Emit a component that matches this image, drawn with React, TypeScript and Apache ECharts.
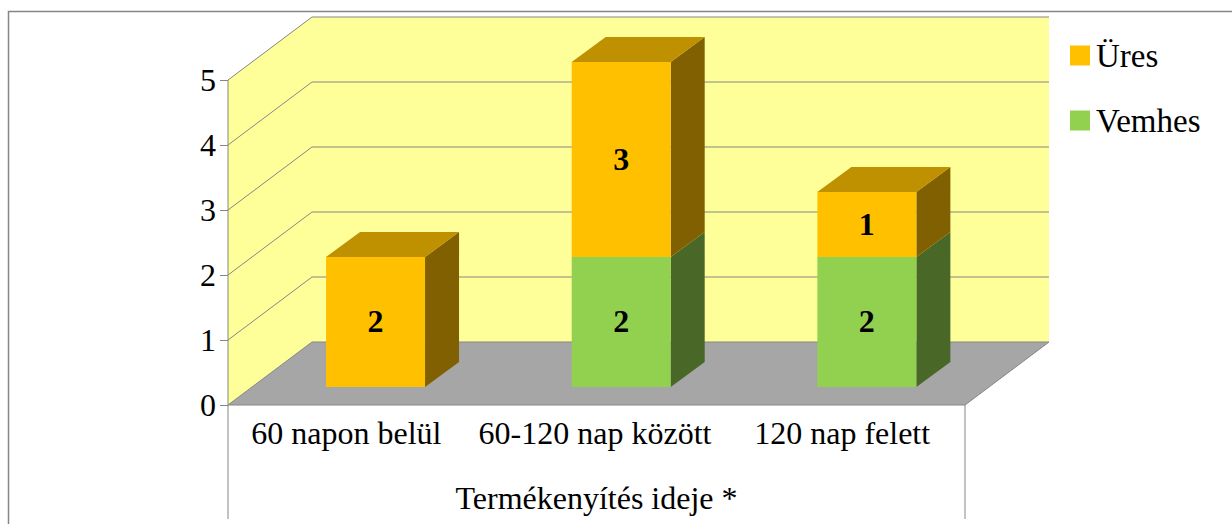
import React, { useEffect, useRef } from "react";
import * as echarts from "echarts";

const categories = ["60 napon belül", "60-120 nap között", "120 nap felett"];
const vemhes = [0, 2, 2];
const ures = [2, 3, 1];
const yTicks = [0, 1, 2, 3, 4, 5];
const axisTitle = "Termékenyítés ideje *";

const FONT = '"Liberation Serif", "Times New Roman", serif';
const FS = 32;
const LINE = "#868686";
const WALL_DX = 84;
const WALL_DY = -63;
const BAR_W = 99;
const BAR_OFF_X = 24.7;
const BAR_OFF_Y = -18;
const BAR_DX = 34;
const BAR_DY = -25;
const LABEL_PAD_RIGHT = [9, 3, 0];

function renderWalls(_p: any, api: any) {
  const band = api.size([1, 0])[0];
  const left = api.coord([0, 0])[0] - band / 2;
  const right = left + band * categories.length;
  const y0 = api.coord([0, 0])[1];
  const y5 = api.coord([0, 5])[1];
  const children: any[] = [
    { type: "polygon", shape: { points: [[left + WALL_DX, y5 + WALL_DY], [right + WALL_DX, y5 + WALL_DY], [right + WALL_DX, y0 + WALL_DY], [left + WALL_DX, y0 + WALL_DY]] }, style: { fill: "#FFFF99" } },
    { type: "polygon", shape: { points: [[left, y5], [left + WALL_DX, y5 + WALL_DY], [left + WALL_DX, y0 + WALL_DY], [left, y0]] }, style: { fill: "#FFFF99" } },
    { type: "polygon", shape: { points: [[left, y0], [right, y0], [right + WALL_DX, y0 + WALL_DY], [left + WALL_DX, y0 + WALL_DY]] }, style: { fill: "#A6A6A6" } },
    { type: "line", shape: { x1: right, y1: y0, x2: right + WALL_DX, y2: y0 + WALL_DY }, style: { stroke: LINE, lineWidth: 1 } },
  ];
  yTicks.forEach((t) => {
    const y = api.coord([0, t])[1];
    children.push({ type: "polyline", shape: { points: [[left, y], [left + WALL_DX, y + WALL_DY], [right + WALL_DX, y + WALL_DY]] }, style: { fill: "none", stroke: LINE, lineWidth: 1 } });
  });
  return { type: "group", children };
}

function barRenderer(front: string, top: string, side: string, isTop: (i: number) => boolean) {
  return (_p: any, api: any) => {
    const i = api.value(0);
    const base = api.value(1);
    const val = api.value(2);
    if (!val) return { type: "group", children: [] };
    const cx = api.coord([i, 0])[0] + BAR_OFF_X;
    const yb = api.coord([i, base])[1] + BAR_OFF_Y;
    const yt = api.coord([i, base + val])[1] + BAR_OFF_Y;
    const l = cx - BAR_W / 2;
    const r = cx + BAR_W / 2;
    const children: any[] = [
      { type: "polygon", shape: { points: [[r, yb], [r + BAR_DX, yb + BAR_DY], [r + BAR_DX, yt + BAR_DY], [r, yt]] }, style: { fill: side } },
    ];
    if (isTop(i)) {
      children.push({ type: "polygon", shape: { points: [[l, yt], [r, yt], [r + BAR_DX, yt + BAR_DY], [l + BAR_DX, yt + BAR_DY]] }, style: { fill: top } });
    }
    children.push({ type: "rect", shape: { x: l, y: yt, width: BAR_W, height: yb - yt }, style: { fill: front } });
    children.push({ type: "text", x: cx, y: (yt + yb) / 2 - 1, style: { text: String(val), fill: "#000", font: `bold ${FS}px ${FONT}`, align: "center", verticalAlign: "middle" } });
    return { type: "group", children };
  };
}

export default function App() {
  const ref = useRef<HTMLDivElement>(null);
  useEffect(() => {
    document.body.style.margin = "0";
    const chart = echarts.init(ref.current!, undefined, { renderer: "svg" });
    chart.setOption({
      animation: false,
      backgroundColor: "#fff",
      grid: { left: 228, top: 80, width: 737, height: 325 },
      xAxis: {
        type: "category",
        data: categories.map((c, i) => ({ value: c, textStyle: { padding: [0, LABEL_PAD_RIGHT[i], 0, 0] } })),
        name: axisTitle,
        nameLocation: "middle",
        nameGap: 77,
        nameTextStyle: { fontFamily: FONT, fontSize: FS, color: "#000" },
        axisLine: { show: false },
        axisTick: { show: false },
        axisLabel: { fontFamily: FONT, fontSize: FS, color: "#000", margin: 12, interval: 0 },
      },
      yAxis: {
        type: "value",
        min: 0,
        max: 5,
        interval: 1,
        splitLine: { show: false },
        axisLine: { show: false },
        axisTick: { show: true, length: 8, lineStyle: { color: LINE } },
        axisLabel: { fontFamily: FONT, fontSize: FS, color: "#000", margin: 12 },
      },
      legend: {
        orient: "vertical",
        left: 1070,
        top: 39,
        padding: 0,
        itemWidth: 20,
        itemHeight: 20,
        itemGap: 32,
        icon: "rect",
        data: ["Üres", "Vemhes"],
        textStyle: { fontFamily: FONT, fontSize: 33, color: "#000", padding: [0, 0, 0, 1] },
      },
      graphic: [
        { type: "polyline", shape: { points: [[8.5, 524], [8.5, 11.5], [1232, 11.5]] }, style: { fill: "none", stroke: LINE, lineWidth: 1.5 }, silent: true },
        { type: "line", shape: { x1: 228, y1: 80, x2: 228, y2: 519 }, style: { stroke: LINE, lineWidth: 1 }, silent: true, z: 10 },
        { type: "line", shape: { x1: 228, y1: 405, x2: 965, y2: 405 }, style: { stroke: LINE, lineWidth: 1 }, silent: true, z: 10 },
        { type: "line", shape: { x1: 965, y1: 405, x2: 965, y2: 519 }, style: { stroke: LINE, lineWidth: 1 }, silent: true, z: 10 },
      ],
      series: [
        { type: "custom", name: "walls", data: [[0, 0]], renderItem: renderWalls, silent: true, z: 1, encode: { x: 0, y: 1 } },
        {
          type: "custom",
          name: "Vemhes",
          z: 2,
          itemStyle: { color: "#92D050" },
          data: vemhes.map((v, i) => [i, 0, v]),
          encode: { x: 0, y: 2 },
          renderItem: barRenderer("#92D050", "#6E9C3C", "#496828", (i) => ures[i] === 0),
        },
        {
          type: "custom",
          name: "Üres",
          z: 3,
          itemStyle: { color: "#FFC000" },
          data: ures.map((v, i) => [i, vemhes[i], v]),
          encode: { x: 0, y: 2 },
          renderItem: barRenderer("#FFC000", "#BF9000", "#806000", () => true),
        },
      ],
    });
    return () => chart.dispose();
  }, []);
  return <div ref={ref} style={{ width: 1232, height: 524 }} />;
}
